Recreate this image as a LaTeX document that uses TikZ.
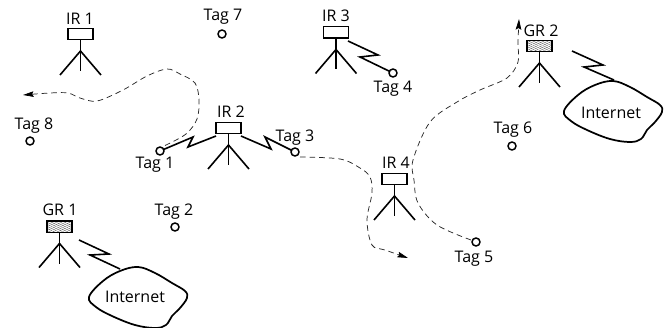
\documentclass[tikz,border=0pt]{standalone}
\usepackage{fontspec}
\setmainfont{Open Sans}
\usetikzlibrary{arrows.meta,patterns.meta}
\tikzset{
  x=0.75pt,y=-0.75pt,
  thick line/.style={line width=1.2pt,line join=miter},
  rbox/.style={draw,line width=1.1pt,minimum width=18.75pt,minimum height=8.6pt,inner sep=0pt,outer sep=0pt},
  gbox/.style={rbox,pattern={Lines[angle=-25,distance=1.4pt,line width=.3pt]},pattern color=black!75},
  tagc/.style={circle,draw,line width=1.1pt,minimum size=6pt,inner sep=0pt,outer sep=0pt},
  lab/.style={font=\fontsize{12}{14}\selectfont,inner sep=0pt},
  taglab/.style={lab,yshift=-1.1pt},
  track/.style={dashed,dash pattern=on 4.2pt off 3pt,line width=.55pt,draw=black!85},
  tipped/.style={-{Stealth[length=8pt,width=4.2pt,inset=1.2pt,color=black]}},
  pics/tripod/.style={code={
    \draw[thick line] (0,6) -- (0,37);
    \draw[thick line] (-20.5,41) -- (0,17) -- (20.5,41);
  }},
  pics/cloud/.style={code={
    \draw[line width=1.3pt] plot[smooth cycle,tension=.62] coordinates {
      (89,297) (103,281) (120,271) (138,267) (155,273) (172,283) (185,291) (187,298)
      (180,308) (172,316) (166,325) (155,328) (135,325) (112,316) (96,307)};
  }}
}
\begin{document}
\begin{tikzpicture}
\useasboundingbox (0,0) rectangle (665,328);

% Readers
\pic at (80.5,34) {tripod};
\node[rbox] (ir1) at (80.5,34) {};
\node[lab] (ir1l) at (80,19) {IR 1};
\pic at (228.5,128) {tripod};
\node[rbox] (ir2) at (228.5,128) {};
\node[lab] (ir2l) at (231,112) {IR 2};
\pic at (336,32.5) {tripod};
\node[rbox] (ir3) at (336,32.5) {};
\node[lab] (ir3l) at (336,16) {IR 3};
\pic at (394.5,179) {tripod};
\node[rbox] (ir4) at (394.5,179) {};
\node[lab] (ir4l) at (396,163) {IR 4};
\pic at (59.5,226.5) {tripod};
\node[gbox] (gr1) at (59.5,226.5) {};
\node[lab] (gr1l) at (60,210) {GR 1};
\pic at (539.5,46) {tripod};
\node[gbox] (gr2) at (539.5,46) {};
\node[lab] (gr2l) at (541,31) {GR 2};

% Tags
\node[tagc] (t1) at (160,151) {};
\node[taglab] (t1l) at (155,163) {Tag 1};
\node[tagc] (t2) at (175,227) {};
\node[taglab] (t2l) at (174,210) {Tag 2};
\node[tagc] (t3) at (295,152) {};
\node[taglab] (t3l) at (295,136) {Tag 3};
\node[tagc] (t4) at (393,73) {};
\node[taglab] (t4l) at (393,87) {Tag 4};
\node[tagc] (t5) at (476,242) {};
\node[taglab] (t5l) at (474,257) {Tag 5};
\node[tagc] (t6) at (512,146) {};
\node[taglab] (t6l) at (513,128) {Tag 6};
\node[tagc] (t7) at (222,34) {};
\node[taglab] (t7l) at (223,15) {Tag 7};
\node[tagc] (t8) at (30,141) {};
\node[taglab] (t8l) at (34,124) {Tag 8};

% Internet clouds
\pic at (0,0) {cloud};
\pic at (475,-186) {cloud};
\node[lab] (net1) at (135,297) {Internet};
\node[lab] (net2) at (611,113) {Internet};

% Wireless links
\coordinate (e1) at (79,240);
\coordinate (c1) at (120,269);
\coordinate (e2) at (572,51);
\coordinate (c2) at (614,80);
\coordinate (a21) at (216,136);
\coordinate (a23) at (241,136);
\coordinate (a34) at (348,41);
\draw[thick line] (t1) -- (193,137) -- (188,147) -- (a21);
\draw[thick line] (a23) -- (271,149) -- (265,137) -- (t3);
\draw[thick line] (a34) -- (378,55) -- (360,57) -- (t4);
\draw[thick line] (e1) -- (109,254) -- (90,255) -- (c1);
\draw[thick line] (e2) -- (603,65) -- (584,67) -- (c2);

% Movement tracks
\coordinate (s1) at (165,145.5);
\coordinate (s3) at (300,157);
\coordinate (s5) at (471,240);
\coordinate (f1) at (23,95);
\coordinate (f3) at (408,258);
\coordinate (f5) at (519,19);
\draw[track,tipped] plot[smooth,tension=.55] coordinates {
  (s1) (186,134) (197,119) (199,100) (195,83) (180,74) (167,69) (147,76)
  (123,90) (97,101) (80,98) (68,93) (50,93) (f1)};
\draw[track,tipped] plot[smooth,tension=.55] coordinates {
  (s3) (340,159) (360,168) (370,177) (372,193) (367,220) (372,245) (385,250) (f3)};
\draw[track,tipped] plot[smooth,tension=.55] coordinates {
  (s5) (437,225) (418,203) (414,180) (413,160) (430,122) (457,102) (480,90)
  (507,78) (518,62) (518,43) (f5)};
\end{tikzpicture}
\end{document}
